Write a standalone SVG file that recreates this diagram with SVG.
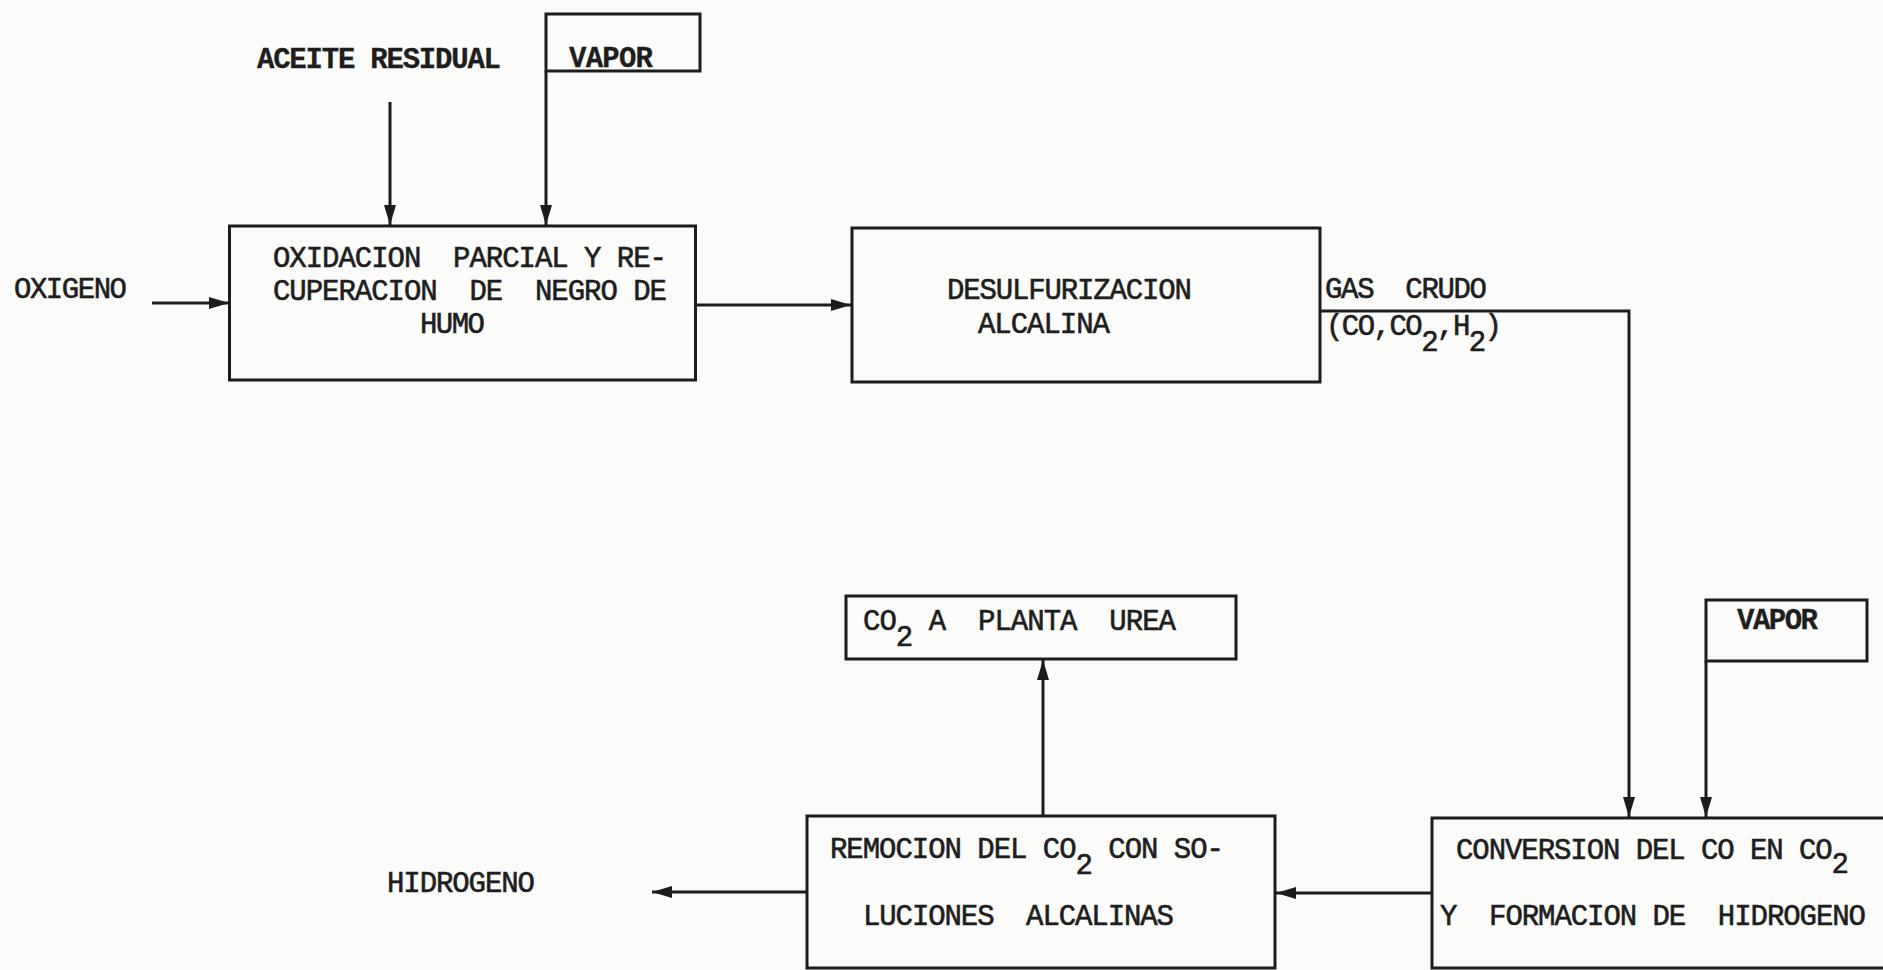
<svg xmlns="http://www.w3.org/2000/svg" width="1883" height="970" viewBox="0 0 1883 970" xml:space="preserve">
<style>
  .bg { fill: #fbfbfa; }
  .box { fill: none; stroke: #1c1c1c; stroke-width: 3; }
  .conn { fill: none; stroke: #1c1c1c; stroke-width: 3; marker-end: url(#arr); }
  text { font-family: "Liberation Mono", "DejaVu Sans Mono", monospace; font-size: 29px; fill: #1e1e1e; stroke: #1e1e1e; stroke-width: 0.6; white-space: pre; }
  .b { font-weight: bold; stroke-width: 0.3; }
</style>
<defs>
  <marker id="arr" viewBox="0 0 20 12" refX="20" refY="6" markerWidth="20" markerHeight="12" orient="auto" markerUnits="userSpaceOnUse">
    <path d="M0,0 L20,6 L0,12 z" fill="#1c1c1c"/>
  </marker>
</defs>
<rect class="bg" x="0" y="0" width="1883" height="970"/>

<g id="connectors">
  <path id="c-oxigeno-oxidacion" class="conn" d="M152 303 H229"/>
  <path id="c-aceite-oxidacion" class="conn" d="M390 102 V225"/>
  <path id="c-vapor1-oxidacion" class="conn" d="M546 71 V225"/>
  <path id="c-oxidacion-desulf" class="conn" d="M696 305 H851"/>
  <path id="c-desulf-conversion" class="conn" d="M1320 311 H1629 V817"/>
  <path id="c-vapor2-conversion" class="conn" d="M1706 661 V817"/>
  <path id="c-conversion-remocion" class="conn" d="M1432 893 H1276"/>
  <path id="c-remocion-co2" class="conn" d="M1043 816 V660"/>
  <path id="c-remocion-hidrogeno" class="conn" d="M806 892 H652"/>
  <g id="label-gas-crudo">
    <text x="1325" y="298" textLength="162">GAS  CRUDO</text>
    <text x="1326" y="335" textLength="176">(CO,CO<tspan dy="16">2</tspan><tspan dy="-16">,H</tspan><tspan dy="16">2</tspan><tspan dy="-16">)</tspan></text>
  </g>
</g>

<g id="n-aceite">
  <text class="b" x="257" y="68" textLength="244">ACEITE RESIDUAL</text>
</g>

<g id="n-vapor1">
  <rect class="box" x="546" y="14" width="154" height="57"/>
  <text class="b" x="569" y="67" textLength="84">VAPOR</text>
</g>

<g id="n-oxigeno">
  <text x="14" y="298" textLength="113">OXIGENO</text>
</g>

<g id="n-oxidacion">
  <rect class="box" x="229.5" y="226" width="466" height="154"/>
  <text x="273" y="267" textLength="394">OXIDACION  PARCIAL Y RE-</text>
  <text x="273" y="300" textLength="394">CUPERACION  DE  NEGRO DE</text>
  <text x="420" y="333" textLength="65">HUMO</text>
</g>

<g id="n-desulf">
  <rect class="box" x="852" y="228" width="468" height="154"/>
  <text x="947" y="299" textLength="245">DESULFURIZACION</text>
  <text x="978" y="333" textLength="132">ALCALINA</text>
</g>

<g id="n-vapor2">
  <rect class="box" x="1706" y="600" width="161" height="61"/>
  <text class="b" x="1737" y="629" textLength="81">VAPOR</text>
</g>

<g id="n-conversion">
  <rect class="box" x="1432" y="818" width="470" height="150"/>
  <text x="1456" y="859" textLength="393">CONVERSION DEL CO EN CO<tspan dy="14">2</tspan></text>
  <text x="1440" y="925" textLength="426">Y  FORMACION DE  HIDROGENO</text>
</g>

<g id="n-remocion">
  <rect class="box" x="807" y="816" width="468" height="152"/>
  <text x="830" y="858" textLength="394">REMOCION DEL CO<tspan dy="16">2</tspan><tspan dy="-16"> CON SO-</tspan></text>
  <text x="863" y="925" textLength="311">LUCIONES  ALCALINAS</text>
</g>

<g id="n-co2urea">
  <rect class="box" x="846" y="596" width="390" height="63"/>
  <text x="863" y="630" textLength="313">CO<tspan dy="16">2</tspan><tspan dy="-16"> A  PLANTA  UREA</tspan></text>
</g>

<g id="n-hidrogeno">
  <text x="387" y="892" textLength="148">HIDROGENO</text>
</g>
</svg>
